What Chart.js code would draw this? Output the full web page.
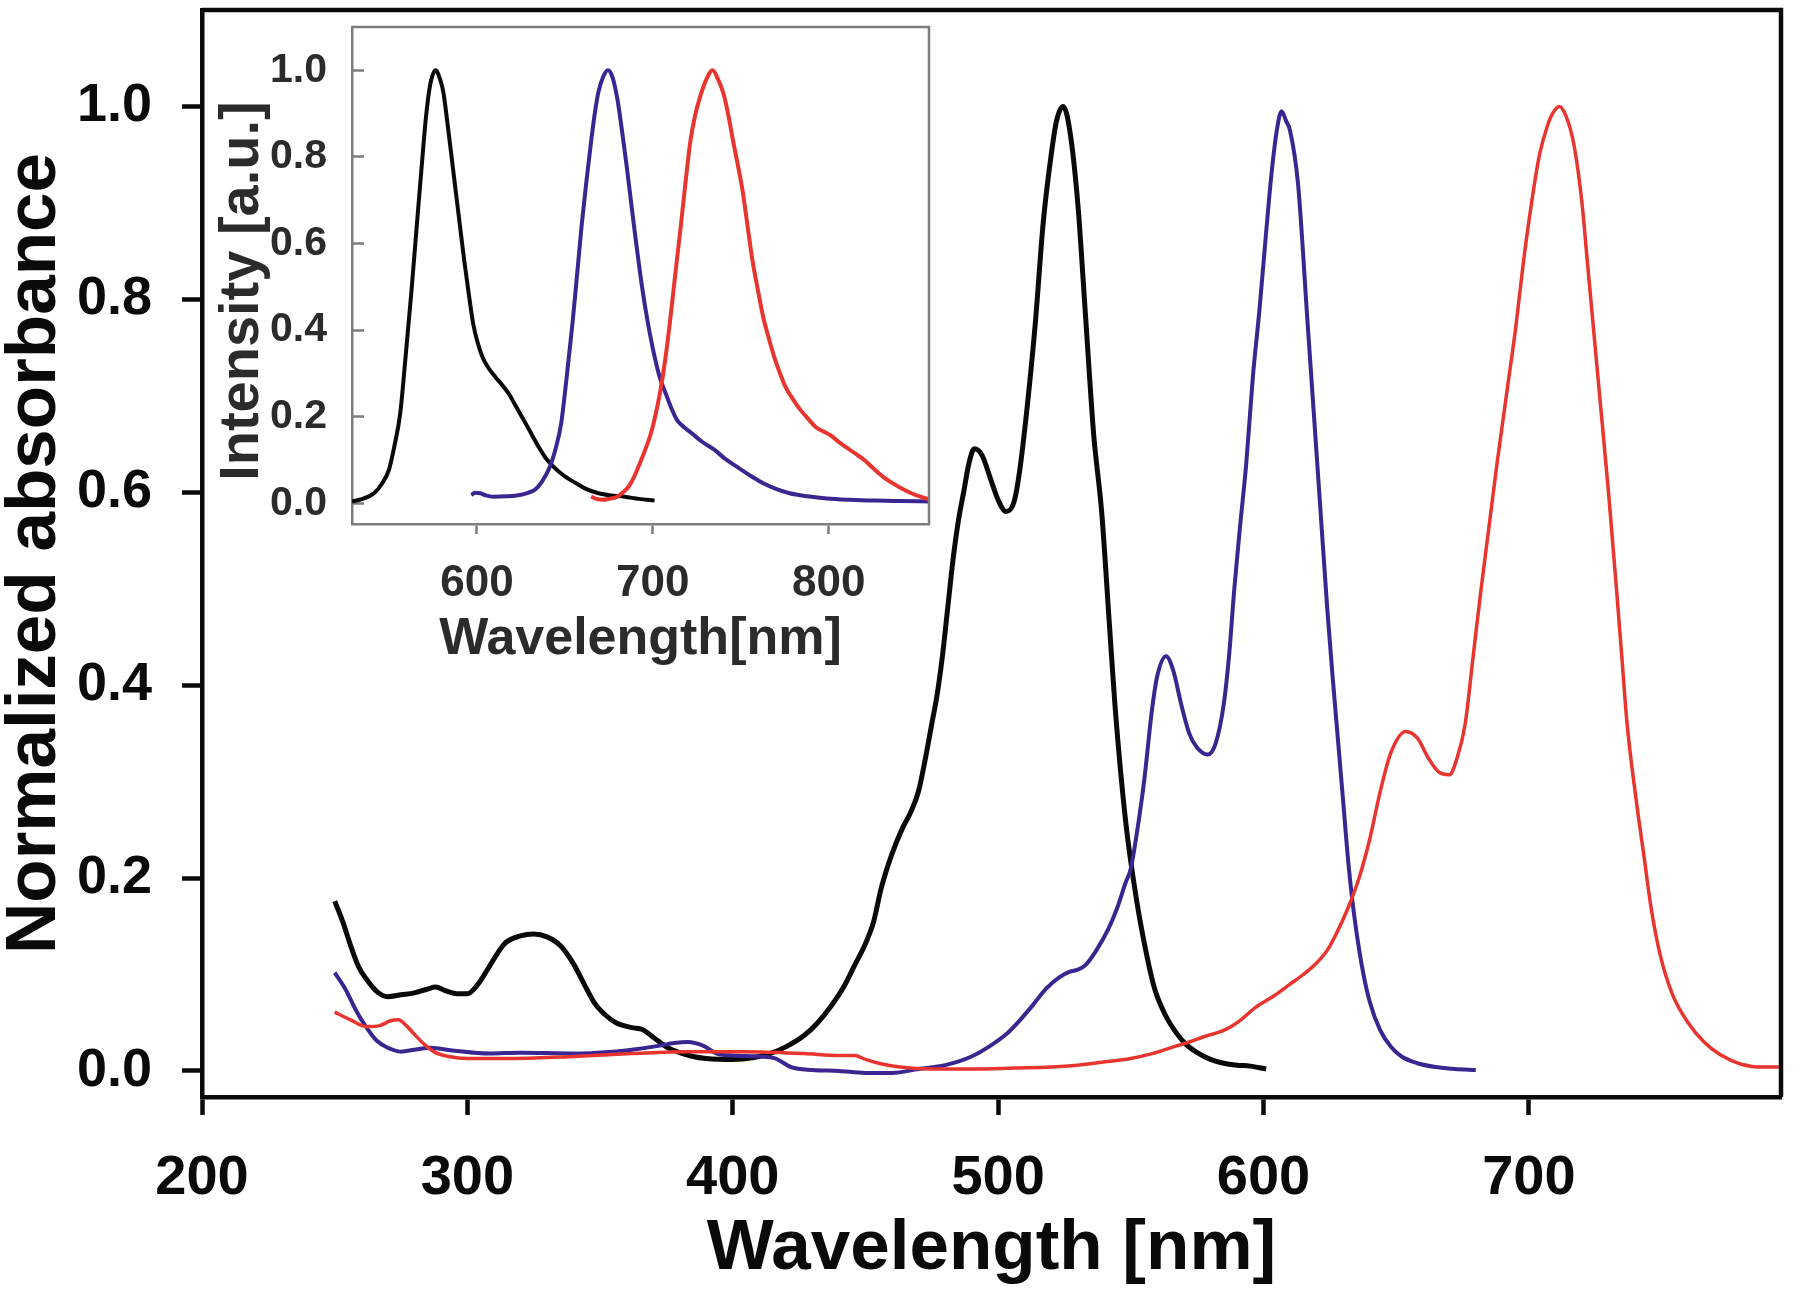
<!DOCTYPE html>
<html>
<head>
<meta charset="utf-8">
<title>Normalized absorbance</title>
<script src="https://cdn.jsdelivr.net/npm/chart.js@4.4.1/dist/chart.umd.min.js"></script>
<style>
    body { margin: 0; background: #fff; }
    #wrap { position: relative; width: 1800px; height: 1307px; }
    #inset { position: absolute; left: 200px; top: 0; }
</style>
</head>
<body>
<div id="wrap">
    <canvas id="main" width="1800" height="1307"></canvas>
    <canvas id="inset" width="760" height="700"></canvas>
</div>
<script>
// absorbance spectra (main chart)
const absNmBlack = [250, 253, 256, 259, 262, 266, 270, 275, 280, 285, 288, 292, 296, 300, 304, 308, 314, 320, 325, 330, 335, 340, 344, 348, 352, 356, 362, 366, 370, 375, 380, 385, 390, 400, 408, 414, 420, 427, 432, 437, 442, 446, 450, 453, 456, 460, 464, 467, 470, 473, 475, 477, 479, 481, 483, 485, 487, 489, 491, 494, 497, 500, 503, 506, 508, 511, 514, 517, 520, 522, 524.5, 527, 530, 533, 536, 539, 542, 544, 548, 552, 556, 559, 563, 567, 571, 575, 580, 585, 590, 595, 601];
const absBlack = [0.176, 0.155, 0.13, 0.108, 0.095, 0.082, 0.077, 0.079, 0.081, 0.085, 0.087, 0.083, 0.080, 0.080, 0.09, 0.107, 0.132, 0.14, 0.142, 0.139, 0.13, 0.111, 0.09, 0.07, 0.058, 0.05, 0.045, 0.043, 0.035, 0.025, 0.019, 0.015, 0.013, 0.012, 0.014, 0.018, 0.025, 0.037, 0.05, 0.067, 0.088, 0.11, 0.132, 0.154, 0.19, 0.225, 0.252, 0.268, 0.29, 0.33, 0.36, 0.39, 0.43, 0.48, 0.53, 0.57, 0.6, 0.63, 0.645, 0.638, 0.615, 0.592, 0.58, 0.59, 0.62, 0.69, 0.775, 0.88, 0.95, 0.985, 1.0, 0.975, 0.9, 0.78, 0.66, 0.58, 0.46, 0.38, 0.26, 0.18, 0.12, 0.085, 0.058, 0.04, 0.027, 0.019, 0.012, 0.008, 0.006, 0.005, 0.002];

const absNmPurple = [250, 254, 258, 262, 266, 270, 275, 280, 286, 295, 308, 320, 340, 355, 362, 372, 378, 383, 389, 394, 400, 410, 416, 422, 430, 440, 450, 460, 470, 480, 490, 497, 503, 508, 513, 518, 523, 527, 530, 533, 537, 541.5, 545, 548, 550, 553, 555, 558, 560, 563.3, 566, 569, 572, 575, 579, 582, 585, 587, 589, 591, 593.5, 596, 598.5, 601, 603, 605, 606.8, 608.5, 610, 613, 616.5, 619, 621.5, 624, 626, 628, 630, 632, 634, 637, 640, 644, 648, 652, 658, 665, 672, 680];
const absPurple = [0.102, 0.085, 0.063, 0.045, 0.031, 0.024, 0.02, 0.022, 0.024, 0.021, 0.018, 0.019, 0.018, 0.02, 0.022, 0.026, 0.029, 0.03, 0.026, 0.018, 0.016, 0.015, 0.013, 0.004, 0.001, 0.0, -0.002, -0.002, 0.002, 0.006, 0.015, 0.026, 0.038, 0.052, 0.068, 0.085, 0.097, 0.103, 0.105, 0.11, 0.125, 0.147, 0.17, 0.195, 0.21, 0.26, 0.3, 0.375, 0.41, 0.43, 0.415, 0.38, 0.35, 0.335, 0.328, 0.34, 0.38, 0.43, 0.5, 0.56, 0.63, 0.72, 0.79, 0.87, 0.93, 0.975, 0.995, 0.985, 0.975, 0.92, 0.78, 0.68, 0.58, 0.48, 0.41, 0.345, 0.28, 0.215, 0.165, 0.11, 0.072, 0.042, 0.025, 0.015, 0.008, 0.004, 0.002, 0.001];

const absNmRed = [250, 256, 262, 267, 271, 274, 277, 280, 284, 288, 293, 300, 318, 340, 362, 383, 405, 427, 440, 446, 450, 455, 463, 475, 490, 506, 520, 530, 539, 550, 558, 565, 572, 578, 585, 591, 597, 604, 610, 615, 620, 624, 627, 632, 636, 640, 644, 648, 653.6, 658, 662, 666, 670, 673, 676, 679, 682, 685, 688, 692, 695, 698, 701, 704, 707, 709, 711.5, 714, 717, 720, 722, 724, 727, 730, 733, 735, 737, 740, 743.5, 746, 749.5, 754, 760, 766, 772, 780, 788, 797];
const absRed = [0.061, 0.053, 0.046, 0.047, 0.052, 0.053, 0.047, 0.038, 0.027, 0.019, 0.015, 0.013, 0.013, 0.015, 0.018, 0.02, 0.02, 0.018, 0.016, 0.016, 0.012, 0.008, 0.004, 0.002, 0.002, 0.003, 0.004, 0.006, 0.009, 0.013, 0.018, 0.024, 0.03, 0.036, 0.042, 0.052, 0.066, 0.078, 0.09, 0.1, 0.112, 0.125, 0.14, 0.17, 0.2, 0.24, 0.29, 0.33, 0.352, 0.345, 0.325, 0.31, 0.307, 0.325, 0.36, 0.43, 0.5, 0.565, 0.63, 0.71, 0.77, 0.84, 0.9, 0.95, 0.98, 0.993, 1.0, 0.99, 0.96, 0.9, 0.84, 0.78, 0.69, 0.6, 0.5, 0.43, 0.36, 0.29, 0.22, 0.17, 0.12, 0.08, 0.05, 0.03, 0.017, 0.007, 0.004, 0.004];

// emission spectra (inset)
const emNmBlack = [529, 535, 541.5, 546, 550, 553, 556.4, 559.5, 562.8, 566, 569, 571, 573.4, 576.6, 579, 580.9, 583.5, 586.2, 589.5, 592.6, 595.5, 597.9, 600.5, 603.2, 607, 610.6, 614, 618.1, 622, 626.6, 631, 635.1, 639, 643.6, 650, 656.4, 662, 669.1, 676, 684, 692, 701];
const emBlack = [0.004, 0.01, 0.023, 0.045, 0.077, 0.13, 0.207, 0.34, 0.49, 0.65, 0.797, 0.89, 0.966, 1.0, 0.98, 0.95, 0.87, 0.78, 0.67, 0.567, 0.48, 0.414, 0.37, 0.337, 0.31, 0.291, 0.275, 0.253, 0.225, 0.192, 0.16, 0.13, 0.105, 0.084, 0.062, 0.046, 0.033, 0.023, 0.018, 0.015, 0.01, 0.006];

const emNmPurple = [596.8, 599, 602, 605, 609.6, 617, 624.5, 629, 633, 637, 641.5, 645, 647.9, 651, 654.3, 657, 659.6, 662.3, 664.9, 667, 669.1, 671.8, 674.5, 677, 679.8, 682.5, 685.1, 687.8, 690.4, 693, 695.7, 698.4, 701.1, 704, 707.4, 710.5, 713.8, 718, 722.3, 728, 735.1, 741, 747.9, 755, 762.8, 770, 777.7, 788, 798.9, 812, 826.6, 840, 857];
const emPurple = [0.019, 0.024, 0.023, 0.018, 0.015, 0.016, 0.019, 0.024, 0.031, 0.05, 0.084, 0.13, 0.184, 0.29, 0.414, 0.53, 0.644, 0.745, 0.835, 0.9, 0.95, 0.985, 1.0, 0.985, 0.935, 0.86, 0.78, 0.69, 0.605, 0.525, 0.452, 0.39, 0.337, 0.29, 0.253, 0.22, 0.192, 0.175, 0.161, 0.142, 0.123, 0.103, 0.084, 0.065, 0.046, 0.033, 0.023, 0.016, 0.011, 0.008, 0.006, 0.005, 0.004];

const emNmRed = [664.9, 668, 671.3, 675, 679.8, 683, 686.2, 689.5, 692.6, 695.8, 698.9, 701.6, 704.3, 707, 709.6, 712.8, 716, 718.7, 721.3, 724, 726.6, 730, 734, 737, 740.4, 743, 745.7, 748.4, 751.1, 753.7, 756.4, 759.6, 762.8, 766, 769.1, 772.3, 775.5, 779.7, 784, 788.3, 792.6, 796.8, 801, 805.3, 809.6, 815, 820.2, 825.5, 830.9, 836, 841.5, 847, 852.1, 857];
const emRed = [0.015, 0.01, 0.008, 0.01, 0.015, 0.025, 0.038, 0.062, 0.092, 0.125, 0.161, 0.205, 0.26, 0.33, 0.414, 0.53, 0.644, 0.745, 0.835, 0.895, 0.935, 0.975, 1.0, 0.98, 0.943, 0.895, 0.835, 0.78, 0.72, 0.645, 0.567, 0.495, 0.429, 0.38, 0.337, 0.3, 0.268, 0.24, 0.215, 0.195, 0.176, 0.166, 0.157, 0.143, 0.13, 0.115, 0.1, 0.08, 0.061, 0.047, 0.034, 0.023, 0.015, 0.009];

// tick labels
const mainXTicks = [200, 300, 400, 500, 600, 700];
const mainYTicks = [0, 0.2, 0.4, 0.6, 0.8, 1.0];
const insetXTicks = [600, 700, 800];
const insetYTicks = [0, 0.2, 0.4, 0.6, 0.8, 1.0];

const FONT = '"Liberation Sans", Arial, sans-serif';
const BLACK = '#0a0a0a';
const PURPLE = '#3b2590';
const RED = '#e8352f';
const INSET_GRAY = '#7d7d7d';

/**
 * Zip an x array and a y array into Chart.js '{x, y}' points.
 */
function makePoints(xs, ys) {
    return xs.map((x, i) => ({ x: x, y: ys[i] }));
}

function makeDataset(xs, ys, color, width) {
    return {
        data: makePoints(xs, ys),
        borderColor: color,
        backgroundColor: color,
        borderWidth: width,
        pointRadius: 0,
        fill: false,
        cubicInterpolationMode: 'monotone'
    };
}

// draws the top and right edges of the plot box
const frameBox = {
    id: 'frameBox',
    afterDatasetsDraw(chart, args, opts) {
        const { ctx, chartArea: a } = chart;
        ctx.save();
        ctx.strokeStyle = opts.color;
        ctx.lineWidth = opts.width;
        ctx.beginPath();
        ctx.moveTo(a.left, a.top);
        ctx.lineTo(a.right, a.top);
        ctx.lineTo(a.right, a.bottom);
        ctx.stroke();
        ctx.restore();
    }
};

function makeAxis(cfg) {
    return {
        type: 'linear',
        min: cfg.min,
        max: cfg.max,
        afterFit: function(scale) {
            cfg.fit(scale);
            // the plot box is placed by the layout padding, not by the tick labels
            scale.paddingTop = 0;
            scale.paddingBottom = 0;
            scale.paddingLeft = 0;
            scale.paddingRight = 0;
        },
        afterBuildTicks: function(scale) {
            scale.ticks = cfg.ticks.map(v => ({ value: v }));
        },
        grid: {
            drawOnChartArea: false,
            tickLength: cfg.tickLength,
            tickWidth: cfg.lineWidth,
            tickColor: cfg.lineColor
        },
        border: { color: cfg.lineColor, width: cfg.lineWidth },
        ticks: {
            autoSkip: false,
            maxRotation: 0,
            padding: cfg.padding,
            color: cfg.textColor,
            font: { family: FONT, size: cfg.tickSize, weight: 'bold', lineHeight: 1 },
            callback: cfg.format
        },
        title: {
            display: true,
            text: cfg.title,
            color: cfg.textColor,
            font: { family: FONT, size: cfg.titleSize, weight: 'bold', lineHeight: 1 },
            padding: cfg.titlePadding
        }
    };
}

window.onload = function() {
    Chart.register(frameBox);

    new Chart(document.getElementById('main'), {
        type: 'line',
        data: {
            datasets: [
                makeDataset(absNmRed, absRed, RED, 3.5),
                makeDataset(absNmPurple, absPurple, PURPLE, 4),
                makeDataset(absNmBlack, absBlack, BLACK, 5)
            ]
        },
        options: {
            responsive: false,
            animation: false,
            devicePixelRatio: 1,
            layout: { padding: { top: 10, right: 19, left: 0, bottom: 0 } },
            plugins: {
                legend: { display: false },
                tooltip: { enabled: false },
                frameBox: { color: BLACK, width: 4.5 }
            },
            scales: {
                x: makeAxis({
                    min: 200, max: 795, ticks: mainXTicks,
                    fit: s => { s.height = 210; },
                    tickLength: 18, lineWidth: 4.5, lineColor: BLACK,
                    padding: 36, tickSize: 56, textColor: BLACK,
                    format: v => v,
                    title: 'Wavelength [nm]', titleSize: 71,
                    titlePadding: { top: 0, bottom: 22 }
                }),
                y: makeAxis({
                    min: -0.027, max: 1.1, ticks: mainYTicks,
                    fit: s => { s.width = 202; },
                    tickLength: 20, lineWidth: 4.5, lineColor: BLACK,
                    padding: 30, tickSize: 54, textColor: BLACK,
                    format: v => v.toFixed(1),
                    title: 'Normalized absorbance', titleSize: 71,
                    titlePadding: { top: 0, bottom: 0 }
                })
            }
        }
    });

    new Chart(document.getElementById('inset'), {
        type: 'line',
        data: {
            datasets: [
                makeDataset(emNmRed, emRed, RED, 4),
                makeDataset(emNmPurple, emPurple, PURPLE, 4),
                makeDataset(emNmBlack, emBlack, BLACK, 4)
            ]
        },
        options: {
            responsive: false,
            animation: false,
            devicePixelRatio: 1,
            layout: { padding: { top: 27, right: 31, left: 0, bottom: 0 } },
            plugins: {
                legend: { display: false },
                tooltip: { enabled: false },
                frameBox: { color: INSET_GRAY, width: 2.5 }
            },
            scales: {
                x: makeAxis({
                    min: 529, max: 857, ticks: insetXTicks,
                    fit: s => { s.height = 176; },
                    tickLength: 10, lineWidth: 2.5, lineColor: INSET_GRAY,
                    padding: 28, tickSize: 44, textColor: '#2b2b2b',
                    format: v => v,
                    title: 'Wavelength[nm]', titleSize: 52,
                    titlePadding: { top: 0, bottom: 34 }
                }),
                y: makeAxis({
                    min: -0.048, max: 1.1, ticks: insetYTicks,
                    fit: s => { s.width = 152; },
                    tickLength: -12, lineWidth: 2.5, lineColor: INSET_GRAY,
                    padding: 37, tickSize: 41, textColor: '#2b2b2b',
                    format: v => v.toFixed(1),
                    // trailing spaces nudge the centred title down a little, as in the figure
                    title: 'Intensity [a.u.]  ', titleSize: 56,
                    titlePadding: { top: 15, bottom: 0 }
                })
            }
        }
    });
}
</script>
</body>
</html>
